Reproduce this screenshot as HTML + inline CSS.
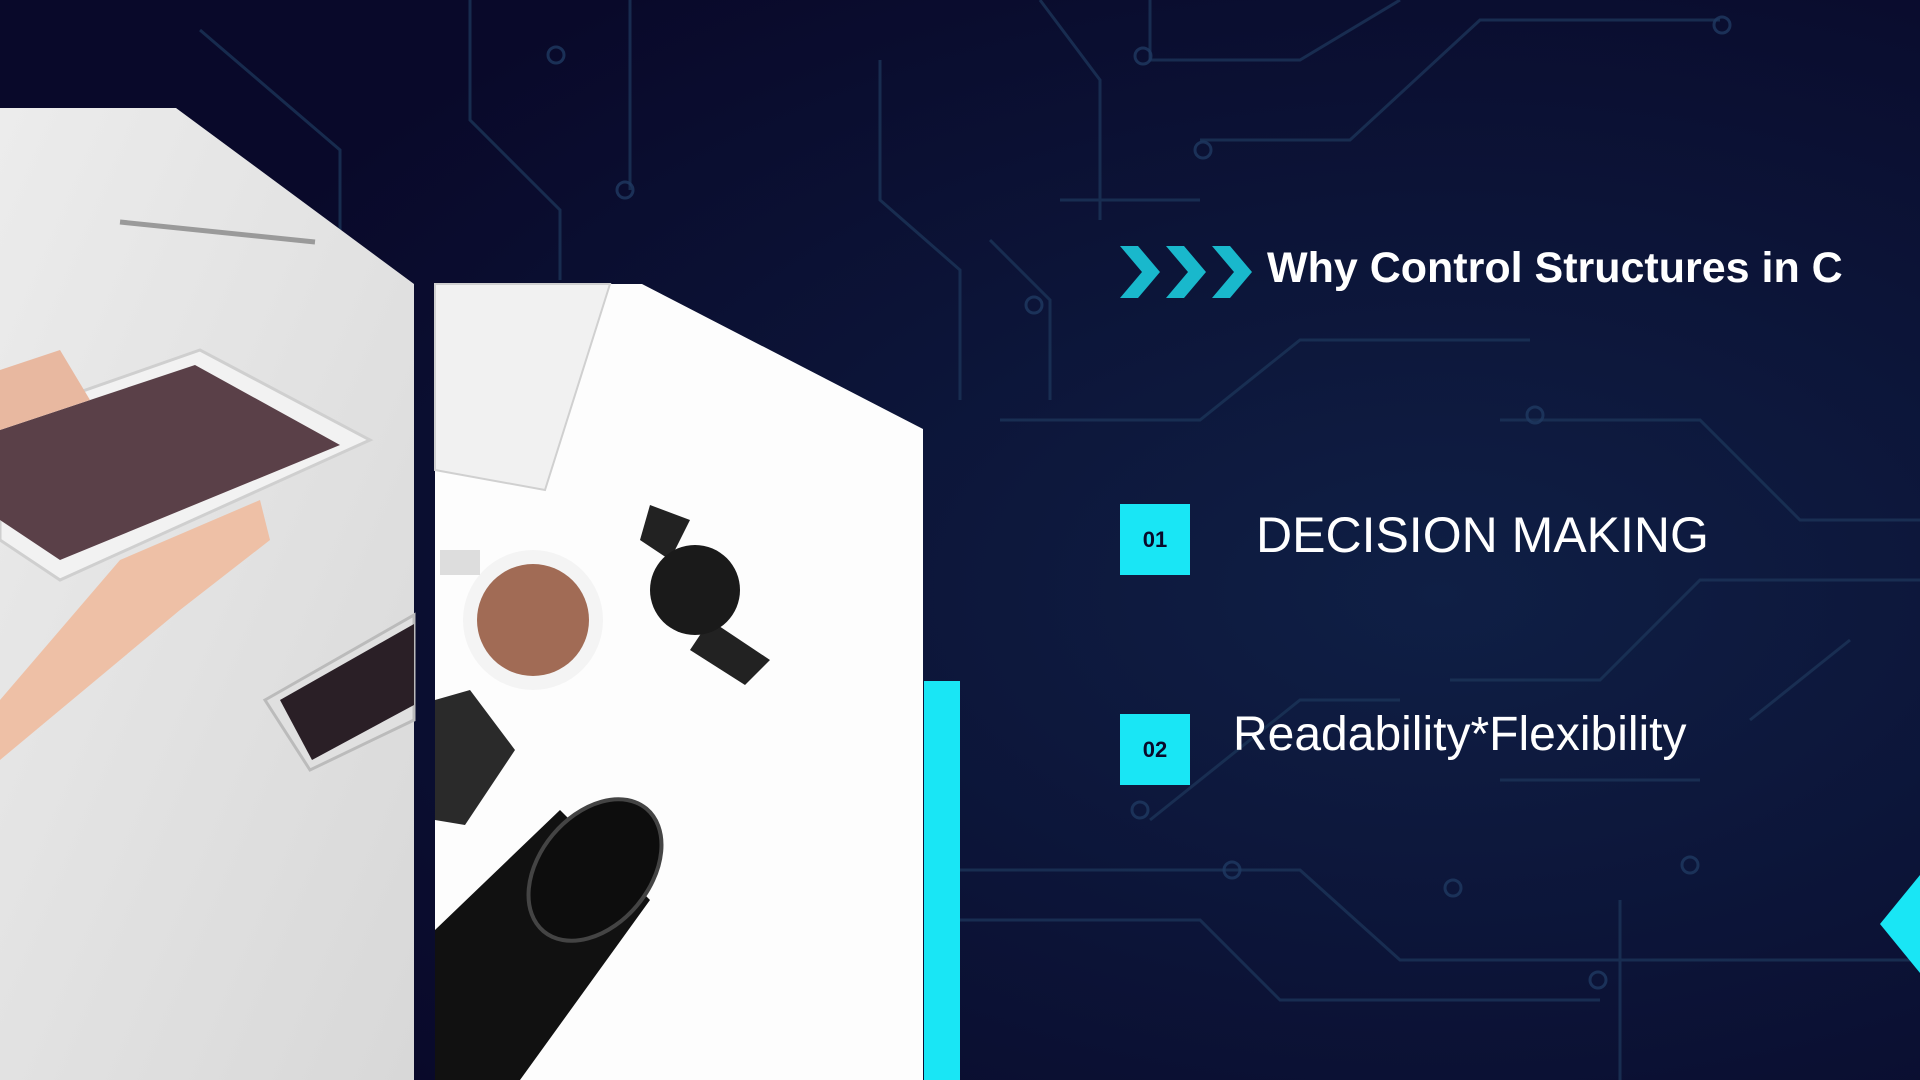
<!DOCTYPE html>
<html><head><meta charset="utf-8"><style>
html,body{margin:0;padding:0}
body{width:1920px;height:1080px;overflow:hidden;background:#0a0a2a;position:relative;font-family:"Liberation Sans",sans-serif}
.abs{position:absolute}
.box{position:absolute;left:1120px;width:70px;height:71px;background:#19e6f5;color:#0a0a2a;font-weight:bold;font-size:22px;display:flex;align-items:center;justify-content:center}
</style></head><body>
<svg class="abs" style="left:0;top:0" width="1920" height="1080">
<defs>
<radialGradient id="g" cx="0.75" cy="0.55" r="0.7"><stop offset="0" stop-color="#0f1f45"/><stop offset="1" stop-color="#09092a"/></radialGradient>
<linearGradient id="lp" x1="0" y1="0" x2="1" y2="1"><stop offset="0" stop-color="#ececec"/><stop offset="1" stop-color="#d8d8d8"/></linearGradient>
</defs>
<rect width="1920" height="1080" fill="url(#g)"/>
<g stroke="#1c3458" stroke-width="3" fill="none" opacity="0.8">
<path d="M200 30 L340 150 L340 260"/><path d="M470 0 L470 120 L560 210 L560 280"/><path d="M630 0 L630 190"/>
<path d="M880 60 L880 200 L960 270 L960 400"/><path d="M1040 0 L1100 80 L1100 220"/><path d="M1150 0 L1150 60 L1300 60 L1400 0"/>
<path d="M1200 140 L1350 140 L1480 20 L1720 20"/><path d="M1060 200 L1200 200"/><path d="M1000 420 L1200 420 L1300 340 L1530 340"/>
<path d="M1500 420 L1700 420 L1800 520 L1920 520"/><path d="M960 870 L1300 870 L1400 960 L1920 960"/><path d="M960 920 L1200 920 L1280 1000 L1600 1000"/>
<path d="M1450 680 L1600 680 L1700 580 L1920 580"/><path d="M1500 780 L1700 780"/><path d="M1150 820 L1300 700 L1400 700"/>
<path d="M1050 400 L1050 300 L990 240"/><path d="M1620 900 L1620 1080"/><path d="M1750 720 L1850 640"/>
</g>
<g fill="none" stroke="#1f3a62" stroke-width="3" opacity="0.8">
<circle cx="1143" cy="56" r="8"/><circle cx="1203" cy="150" r="8"/><circle cx="1722" cy="25" r="8"/><circle cx="1034" cy="305" r="8"/><circle cx="1535" cy="415" r="8"/><circle cx="1140" cy="810" r="8"/><circle cx="1453" cy="888" r="8"/><circle cx="1598" cy="980" r="8"/><circle cx="1690" cy="865" r="8"/><circle cx="556" cy="55" r="8"/><circle cx="625" cy="190" r="8"/><circle cx="1232" cy="870" r="8"/>
</g>
<polygon points="0,108 176,108 414,284 414,1080 0,1080" fill="url(#lp)"/>
<line x1="120" y1="222" x2="315" y2="242" stroke="#9a9a9a" stroke-width="5"/>
<polygon points="0,420 200,350 370,440 60,580 0,540" fill="#f2f2f2" stroke="#cfcfcf" stroke-width="3"/>
<polygon points="0,430 195,365 340,445 60,560 0,520" fill="#5a4048"/>
<path d="M0 370 L60 350 L90 400 L0 430Z" fill="#e8b8a0"/>
<path d="M0 700 L120 560 L260 500 L270 540 L180 610 L0 760Z" fill="#eec0a6"/>
<polygon points="265,700 414,615 414,720 310,770" fill="#e0e0e0" stroke="#bbb" stroke-width="3"/>
<polygon points="280,700 414,624 414,705 312,760" fill="#2a1f26"/>
<polygon points="435,284 642,284 923,429 923,1080 435,1080" fill="#fdfdfd"/>
<polygon points="435,284 610,284 545,490 435,470" fill="#f1f1f1" stroke="#d0d0d0" stroke-width="2"/>
<circle cx="533" cy="620" r="70" fill="#f4f4f4"/><circle cx="533" cy="620" r="56" fill="#a16b55"/>
<rect x="440" y="550" width="40" height="25" fill="#ddd"/>
<polygon points="650,505 690,520 670,560 640,540" fill="#222"/><polygon points="710,620 770,660 745,685 690,650" fill="#222"/>
<circle cx="695" cy="590" r="45" fill="#1a1a1a"/>
<polygon points="435,700 470,690 515,750 465,825 435,820" fill="#2a2a2a"/>
<polygon points="435,930 560,810 650,900 520,1080 435,1080" fill="#111"/>
<ellipse cx="595" cy="870" rx="55" ry="80" transform="rotate(40 595 870)" fill="#0d0d0d" stroke="#444" stroke-width="4"/>
<rect x="924" y="681" width="36" height="399" fill="#19e6f5"/>
<polygon points="1920,875 1920,973 1880,924" fill="#19e6f5"/>
<g fill="#19b8cc">
<polygon points="1120,246 1138,246 1160,272 1138,298 1120,298 1142,272"/>
<polygon points="1166,246 1184,246 1206,272 1184,298 1166,298 1188,272"/>
<polygon points="1212,246 1230,246 1252,272 1230,298 1212,298 1234,272"/>
</g>
</svg>
<div class="abs" style="left:1267px;top:244px;color:#fff;font-weight:bold;font-size:43px;white-space:nowrap">Why Control Structures in C</div>
<div class="box" style="top:504px">01</div>
<div class="abs" style="left:1256px;top:506px;color:#fff;font-size:50px;white-space:nowrap">DECISION MAKING</div>
<div class="box" style="top:714px">02</div>
<div class="abs" style="left:1233px;top:707px;color:#fff;font-size:48px;white-space:nowrap">Readability*Flexibility</div>
</body></html>
